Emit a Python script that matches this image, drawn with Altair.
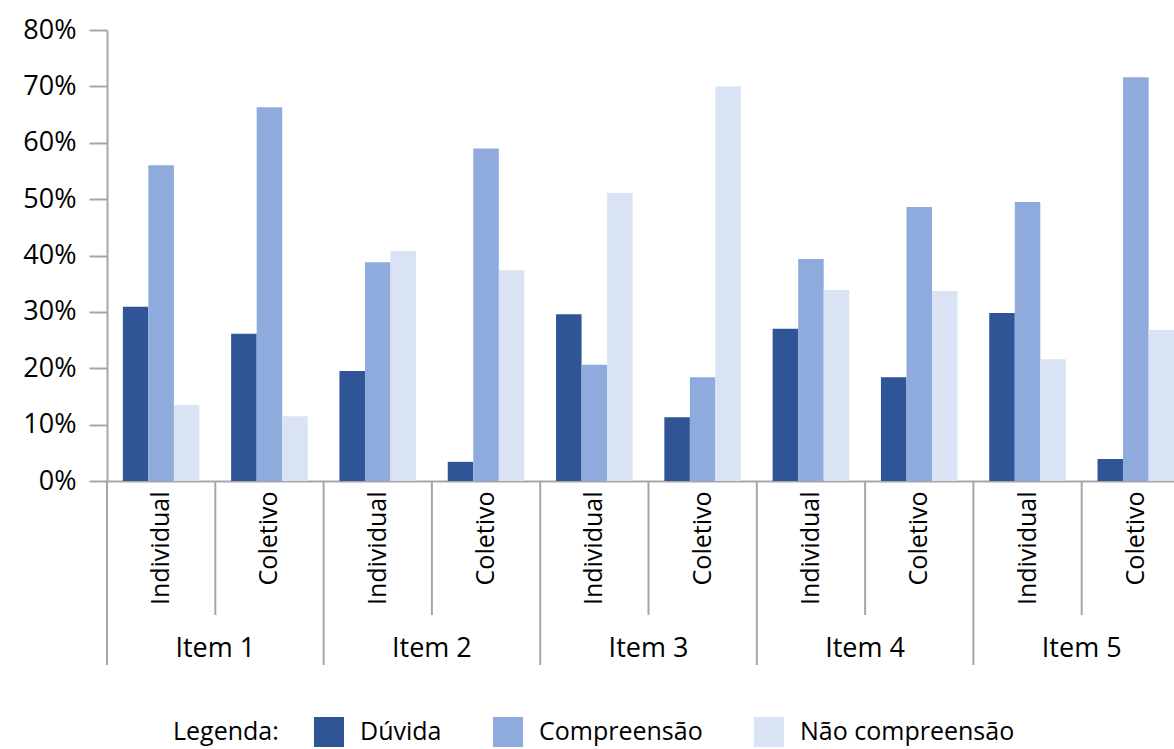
import altair as alt
import pandas as pd

items = ["Item 1", "Item 2", "Item 3", "Item 4", "Item 5"]
groups = ["Individual", "Coletivo"]
categories = ["Dúvida", "Compreensão", "Não compreensão"]
colors = ["#2F5597", "#8FAADC", "#DAE3F3"]

# values in %, order: Item1 Ind, Item1 Col, Item2 Ind, ...
duvida = [30.9, 26.1, 19.5, 3.4, 29.6, 11.3, 27.0, 18.4, 29.8, 3.9]
compreensao = [56.0, 66.3, 38.8, 59.0, 20.6, 18.4, 39.4, 48.6, 49.5, 71.6]
nao_compreensao = [13.5, 11.5, 40.8, 37.4, 51.1, 70.0, 33.9, 33.7, 21.6, 26.8]
y_ticks = [0, 0.1, 0.2, 0.3, 0.4, 0.5, 0.6, 0.7, 0.8]

series = {"Dúvida": duvida, "Compreensão": compreensao, "Não compreensão": nao_compreensao}

keys = [f"{it}|{g}" for it in items for g in groups]
rows = []
for idx, key in enumerate(keys):
    for cat in categories:
        rows.append({"key": key, "cat": cat, "val": series[cat][idx] / 100})
df = pd.DataFrame(rows)

sub_df = pd.DataFrame({"key": [f"{it}|Coletivo" for it in items]})
item_df = pd.DataFrame({"key": [f"{it}|Individual" for it in items]})
label_df = pd.DataFrame({"key": [f"{it}|Coletivo" for it in items], "item": items})

W, H = 1067, 451
GRAY = "#A6A6A6"
FONT = "Open Sans"

xscale = alt.Scale(domain=keys, range=[0, 1083], paddingInner=0, paddingOuter=0)

bars = alt.Chart(df).mark_bar().encode(
    x=alt.X("key:N", scale=xscale, title=None,
            axis=alt.Axis(labelAngle=-90, labelAlign="right", labelBaseline="middle",
                          labelExpr="split(datum.label, '|')[1]", ticks=False, grid=False,
                          domainColor=GRAY, domainWidth=2, labelPadding=10,
                          labelFontSize=25, labelFont=FONT, labelColor="black",
                          labelOverlap=False)),
    xOffset=alt.XOffset("cat:N", scale=alt.Scale(domain=categories, paddingInner=0, paddingOuter=0.62)),
    y=alt.Y("val:Q", scale=alt.Scale(domain=[0, 0.8], nice=False), title=None,
            axis=alt.Axis(format=".0%", values=y_ticks, grid=False, tickSize=18,
                          labelPadding=13, domainColor=GRAY, domainWidth=2,
                          tickColor=GRAY, tickWidth=2, labelFontSize=27,
                          labelFont=FONT, labelColor="black")),
    color=alt.Color("cat:N", scale=alt.Scale(domain=categories, range=colors),
                    legend=alt.Legend(title="Legenda:", orient="none", legendX=66, legendY=687,
                                      direction="horizontal", titleOrient="left",
                                      titleFontSize=25, titleFontWeight="normal", titleFont=FONT,
                                      titleColor="black", titlePadding=35, titleBaseline="middle",
                                      labelFontSize=25, labelFont=FONT, labelColor="black",
                                      labelLimit=400, labelOffset=16, symbolType="square",
                                      symbolSize=900, symbolStrokeWidth=0, symbolOpacity=1,
                                      columnPadding=51, padding=0)),
)

sub_rules = alt.Chart(sub_df).mark_rule(color=GRAY, strokeWidth=2).encode(
    x=alt.X("key:N", scale=xscale, bandPosition=0, title=None),
    y=alt.value(H), y2=alt.value(H + 134),
)

item_rules = alt.Chart(item_df).mark_rule(color=GRAY, strokeWidth=2).encode(
    x=alt.X("key:N", scale=xscale, bandPosition=0, title=None),
    y=alt.value(H), y2=alt.value(H + 184),
)

item_labels = alt.Chart(label_df).mark_text(fontSize=27, font=FONT, color="black",
                                            baseline="middle", align="center").encode(
    x=alt.X("key:N", scale=xscale, bandPosition=0, title=None),
    y=alt.value(H + 168),
    text="item:N",
)

chart = alt.layer(bars, sub_rules, item_rules, item_labels).properties(
    width=W, height=H,
    autosize=alt.AutoSizeParams(type="none"),
    padding={"left": 107, "top": 30, "right": 0, "bottom": 268},
    view=alt.ViewBackground(stroke="transparent", strokeWidth=0, fill="white"),
).configure_view(strokeWidth=0, stroke="transparent", strokeOpacity=0).configure_axis(
    grid=False
).configure(font=FONT, background="white")

chart.save("out.html", embed_options={"renderer": "svg", "actions": False})
